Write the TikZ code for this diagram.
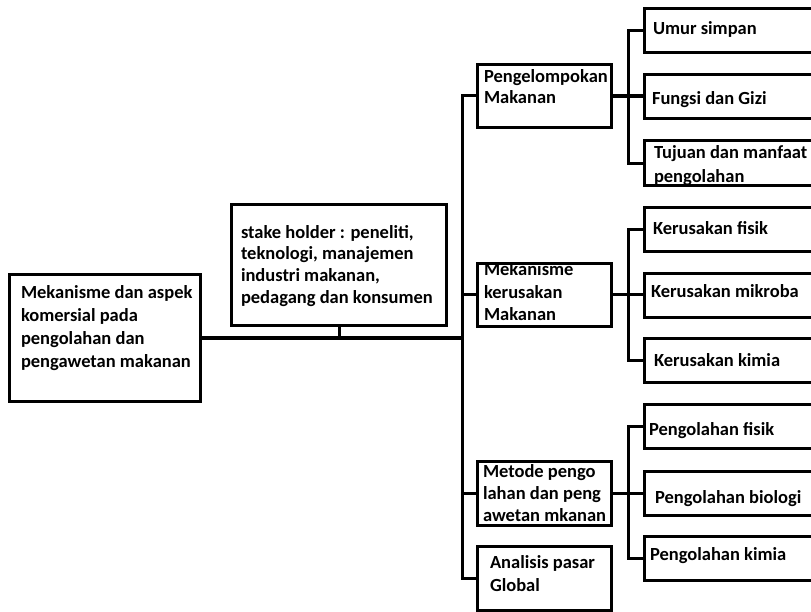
\documentclass[tikz,border=0pt]{standalone}
\usepackage{fontspec}
\setmainfont{Carlito}
\begin{document}
\begin{tikzpicture}[x=1pt,y=-1pt,
  box/.style={draw=black, line width=3pt, rectangle, inner sep=0pt, outer sep=0pt, anchor=north west},
  conn/.style={draw=black, line width=3pt},
  thick conn/.style={draw=black, line width=4.5pt},
  txt/.style={anchor=north west, inner sep=0pt, outer sep=0pt, align=left,
    font=\bfseries\fontsize{18.5}{#1}\selectfont, execute at begin node={\rule{0pt}{15pt}}},
  txt/.default=22.5]
\path[use as bounding box, fill=white] (0,0) rectangle (811,612);
\clip (0,0) rectangle (811,612);

% labels (set first so the box borders are drawn over them)
\node[txt=22.7] (tmain) at (21,286) {Mekanisme dan aspek\\komersial pada\\pengolahan dan\\pengawetan makanan};
\node[txt=21.7] (tstake) at (241,225) {stake holder : peneliti,\\teknologi, manajemen\\industri makanan,\\pedagang dan konsumen};
\node[txt=21] (tpeng) at (484,70) {Pengelompokan\\Makanan};
\node[txt=22.5] (tmeka) at (484,263) {Mekanisme\\kerusakan\\Makanan};
\node[txt=22] (tmeto) at (483,465) {Metode pengo\\lahan dan peng\\awetan mkanan};
\node[txt=23] (tanal) at (490,556) {Analisis pasar\\Global};
\node[txt] (tumur) at (653,20) {Umur simpan};
\node[txt] (tfungsi) at (652,90) {Fungsi dan Gizi};
\node[txt=24] (ttujuan) at (654,146) {Tujuan dan manfaat\\pengolahan};
\node[txt] (tkfisik) at (653,220) {Kerusakan fisik};
\node[txt] (tkmikro) at (651,283) {Kerusakan mikroba};
\node[txt] (tkkimia) at (654,351) {Kerusakan kimia};
\node[txt] (tpfisik) at (649,420) {Pengolahan fisik};
\node[txt] (tpbio) at (655,488) {Pengolahan biologi};
\node[txt] (tpkimia) at (650,545) {Pengolahan kimia};

% root and stakeholder boxes
\node[box, minimum width=191pt, minimum height=127pt] (main) at (9.5,274.5) {};
\node[box, minimum width=215pt, minimum height=121pt] (stake) at (231.5,204.5) {};

% second level
\node[box, minimum width=134pt, minimum height=63pt] (peng) at (477.5,64.5) {};
\node[box, minimum width=134pt, minimum height=63pt] (meka) at (477.5,263.5) {};
\node[box, minimum width=134pt, minimum height=64pt] (meto) at (477.5,461.5) {};
\node[box, minimum width=134pt, minimum height=64pt] (anal) at (477.5,546.5) {};

% third level
\node[box, minimum width=190pt, minimum height=44pt] (umur) at (644.5,8.5) {};
\node[box, minimum width=190pt, minimum height=44pt] (fungsi) at (644.5,74.5) {};
\node[box, minimum width=190pt, minimum height=45pt] (tujuan) at (644.5,141) {};
\node[box, minimum width=190pt, minimum height=44pt] (kfisik) at (644.5,207.5) {};
\node[box, minimum width=190pt, minimum height=44pt] (kmikro) at (644.5,273.5) {};
\node[box, minimum width=190pt, minimum height=44pt] (kkimia) at (644.5,338.5) {};
\node[box, minimum width=190pt, minimum height=44pt] (pfisik) at (644.5,404.5) {};
\node[box, minimum width=190pt, minimum height=44pt] (pbio) at (644.5,471.5) {};
\node[box, minimum width=190pt, minimum height=44pt] (pkimia) at (644.5,536.5) {};

% trunk
\coordinate (trunk) at (462.5,96);
\draw[thick conn] (main.east) -- (main.east -| trunk);
\draw[conn] (stake.south) -- (stake.south |- main.east);
\draw[conn] (peng.west) -- (peng.west -| trunk) |- (anal.west);
\draw[conn] (meka.west) -- (meka.west -| trunk);
\draw[conn] (meto.west) -- (meto.west -| trunk);

% branches
\draw[thick conn] (peng.east) -- (peng.east -| fungsi.west);
\draw[conn] (umur.west) -- ++(-16,0) |- (tujuan.west);
\draw[conn] (meka.east) -- (meka.east -| kmikro.west);
\draw[conn] (kfisik.west) -- ++(-16,0) |- (kkimia.west);
\draw[conn] (meto.east) -- (meto.east -| pbio.west);
\draw[conn] (pfisik.west) -- ++(-16,0) |- (pkimia.west);
\end{tikzpicture}
\end{document}
